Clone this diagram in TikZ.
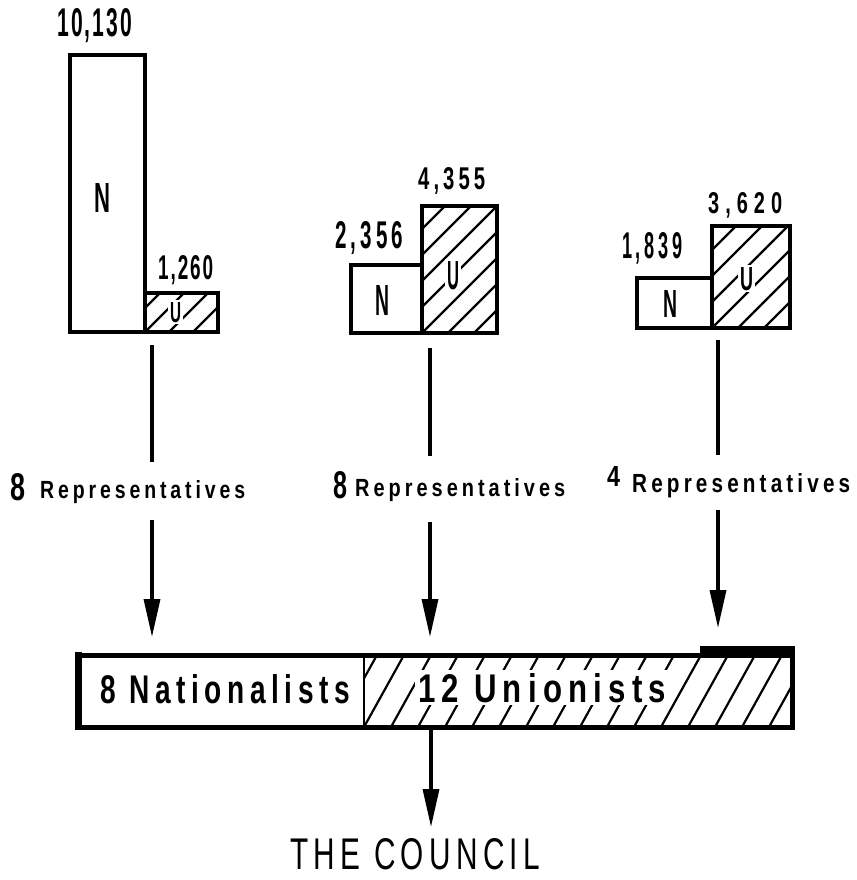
\documentclass[tikz,border=0pt]{standalone}
\usepackage{fontspec}
\usepackage{graphicx}
\setmainfont{Liberation Sans}
\newfontfamily\tightfont[LetterSpace=10]{Liberation Sans}
\newfontfamily\midfont[LetterSpace=20]{Liberation Sans}
\newfontfamily\widefont[LetterSpace=30]{Liberation Sans}
\newfontfamily\cfont[LetterSpace=18]{Liberation Sans}
\usetikzlibrary{arrows.meta}
% width, height, family, text
\newcommand\fitbox[4]{\resizebox{#1pt}{#2pt}{#3\bfseries\fontsize{30}{30}\selectfont #4}}
\newcommand\hatchbox[6]{%
  \begin{scope}
    \clip (#1,#2) rectangle (#3,#4);
    \foreach \k in {-12,...,40} {\draw[hatchline] ({#1+\k*#5},#4) -- ++(#6,{-(#4-#2)});}
  \end{scope}}
\tikzset{
  lbl/.style={inner sep=0pt, anchor=base west},
  box/.style={line width=4pt, line join=miter},
  hatchline/.style={line width=2.2pt},
  barline/.style={line width=5pt},
  arr/.style={line width=3.4pt, -{Triangle[length=38pt,width=16pt]}},
  plain/.style={line width=3.4pt},
}
\begin{document}
\begin{tikzpicture}[x=1pt,y=-1pt]
\useasboundingbox (0,0) rectangle (856,880);

% ---------- panel 1
\draw[box] (70,55) rectangle (145,332);
\hatchbox{145}{293}{218}{332}{24}{39}
\draw[box] (145,293) rectangle (218,332);
\node[lbl] (v1) at (57,37) {\fitbox{75}{28}{\tightfont}{10,130}};
\node[lbl] (n1) at (94,212) {\fitbox{16}{29}{\tightfont}{N}};
\node[lbl] (v2) at (158,279) {\fitbox{55}{24}{\tightfont}{1,260}};
\node[lbl, fill=white, inner sep=2pt] (u1) at (168,322) {\fitbox{11}{20}{\tightfont}{U}};

% ---------- panel 2
\draw[box] (351,265) rectangle (422,333);
\hatchbox{422}{206}{497}{333}{26}{127}
\draw[box] (422,206) rectangle (497,333);
\node[lbl] (v3) at (335,248) {\fitbox{68}{27}{\midfont}{2,356}};
\node[lbl] (v4) at (418,189) {\fitbox{67}{22}{\midfont}{4,355}};
\node[lbl] (n2) at (375,315) {\fitbox{14}{30}{\tightfont}{N}};
\node[lbl, fill=white, inner sep=2pt] (u2) at (445,289) {\fitbox{12}{28}{\tightfont}{U}};

% ---------- panel 3
\draw[box] (637,278) rectangle (712,328);
\hatchbox{712}{226}{790}{328}{26}{102}
\draw[box] (712,226) rectangle (790,328);
\node[lbl] (v5) at (622,258) {\fitbox{60}{26}{\midfont}{1,839}};
\node[lbl] (v6) at (708,213) {\fitbox{74}{21}{\widefont}{3,620}};
\node[lbl] (n3) at (663,317) {\fitbox{14}{27}{\tightfont}{N}};
\node[lbl, fill=white, inner sep=2pt] (u3) at (738,290) {\fitbox{13}{23}{\tightfont}{U}};

% ---------- representatives labels
\node[lbl] (r1n) at (10,500) {\fitbox{15}{27}{\tightfont}{8}};
\node[lbl] (r1) at (40,498) {\fitbox{205}{18}{\midfont}{Representatives}};
\node[lbl] (r2n) at (333,498) {\fitbox{14}{27}{\tightfont}{8}};
\node[lbl] (r2) at (355,496) {\fitbox{210}{18}{\midfont}{Representatives}};
\node[lbl] (r3n) at (607,486) {\fitbox{13}{20}{\tightfont}{4}};
\node[lbl] (r3) at (632,492) {\fitbox{218}{19}{\midfont}{Representatives}};

% ---------- connectors
\coordinate (a1t) at (152,345); \coordinate (a1m) at (152,462);
\coordinate (a1s) at (152,520); \coordinate (a1e) at (152,637);
\coordinate (a2t) at (430,348); \coordinate (a2m) at (430,456);
\coordinate (a2s) at (430,522); \coordinate (a2e) at (430,637);
\coordinate (a3t) at (718,340); \coordinate (a3m) at (718,455);
\coordinate (a3s) at (718,510); \coordinate (a3e) at (718,628);
\draw[plain] (a1t) -- (a1m);
\draw[plain] (a2t) -- (a2m);
\draw[plain] (a3t) -- (a3m);
\draw[arr] (a1s) -- (a1e);
\draw[arr] (a2s) -- (a2e);
\draw[arr] (a3s) -- (a3e);

% ---------- council bar
\fill[white] (78,655) rectangle (793,727);
\hatchbox{364}{655}{793}{727}{27}{40}
\node[lbl, fill=white, inner sep=3pt] (un) at (415,702) {\fitbox{248}{29}{\midfont}{12 Unionists}};
\node[lbl] (na) at (100,703) {\fitbox{250}{29}{\midfont}{8 Nationalists}};
\draw[barline] (76,655) -- (795,655);
\draw[barline] (76,727) -- (795,727);
\draw[line width=7pt] (78,652) -- (78,730);
\draw[barline] (792,647) -- (792,729);
\fill (700,646) rectangle (795,657);
\draw[line width=2.5pt] (364,655) -- (364,727);

\coordinate (cs) at (431,729);
\node[lbl] (council) at (290,869) {\resizebox{250pt}{31pt}{\cfont\fontsize{30}{30}\selectfont THE\ COUNCIL}};
\coordinate (ce) at (431,827);
\draw[arr] (cs) -- (ce);
\end{tikzpicture}
\end{document}
